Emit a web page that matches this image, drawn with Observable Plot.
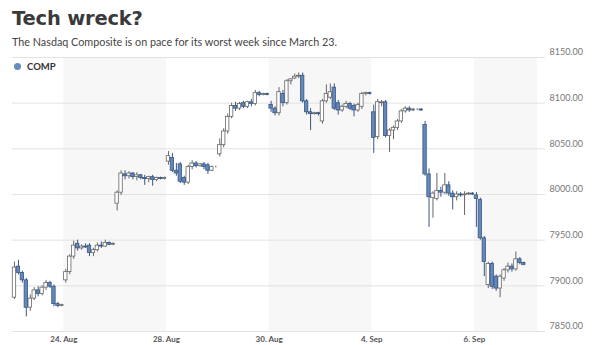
<!DOCTYPE html>
<html>
<head>
<meta charset="utf-8">
<script src="https://cdn.jsdelivr.net/npm/d3@7"></script>
<script src="https://cdn.jsdelivr.net/npm/@observablehq/plot@0.6"></script>
<style>
  html, body { margin: 0; padding: 0; background: #fff; }
  body { width: 593px; height: 345px; overflow: hidden; position: relative; font-family: Lato, "Open Sans", sans-serif; }
  #title { position: absolute; left: 12px; top: 7px; font: bold 19.5px "DejaVu Sans", sans-serif; color: #3a3a3a; letter-spacing: -0.2px; white-space: nowrap; }
  #subtitle { position: absolute; left: 12px; top: 35px; font: 10.8px Lato, sans-serif; color: #444; white-space: nowrap; }
  #legend { position: absolute; left: 14px; top: 61px; font: bold 9.5px Lato, sans-serif; color: #333; display: flex; align-items: center; gap: 6px; }
  #legend .dot { width: 7px; height: 7px; border-radius: 50%; background: #6a8cbc; display: inline-block; }
  #chart { position: absolute; left: 0; top: 48px; }
</style>
</head>
<body>
<div id="title">Tech wreck?</div>
<div id="subtitle">The Nasdaq Composite is on pace for its worst week since March 23.</div>
<div id="chart"></div>
<div id="legend"><span class="dot"></span><span>COMP</span></div>
<script>
// Trading days shown (13 half-hour candles each)
const days = ["23. Aug", "24. Aug", "27. Aug", "28. Aug", "29. Aug", "30. Aug", "31. Aug", "4. Sep", "5. Sep", "6. Sep"];
const candlesPerDay = 13;
const yTicks = [7850, 7900, 7950, 8000, 8050, 8100, 8150];
const shadeEnd = 133; // last shaded band runs to the plot's right edge

const opens = [
  7887, 7921, 7914, 7906, 7876, 7886, 7895, 7891, 7898, 7903, 7899, 7880, 7878,
  7906, 7915, 7932, 7946, 7941, 7943, 7944, 7936, 7939, 7944, 7943, 7947, 7945,
  7990, 8002, 8022, 8020, 8023, 8019, 8021, 8018, 8017, 8019, 8016, 8018, 8017,
  8036, 8040, 8026, 8033, 8018, 8013, 8030, 8034, 8031, 8033, 8032, 8026, 8030,
  8044, 8054, 8069, 8085, 8097, 8094, 8100, 8096, 8101, 8099, 8111, 8109, 8110,
  8098, 8094, 8089, 8110, 8100, 8124, 8127, 8129, 8130, 8102, 8090, 8088, 8089,
  8080, 8102, 8106, 8117, 8100, 8092, 8096, 8099, 8097, 8092, 8096, 8110, 8111,
  8090, 8063, 8100, 8101, 8064, 8070, 8073, 8080, 8091, 8094, 8092, 8093, 8093,
  8076, 8022, 7996, 7995, 8004, 8002, 8010, 8001, 7997, 8000, 7999, 8000, 8001,
  7999, 7994, 7952, 7901, 7924, 7910, 7897, 7908, 7917, 7921, 7918, 7929, 7925
];
const highs = [
  7926, 7928, 7916, 7908, 7890, 7898, 7899, 7900, 7906, 7905, 7901, 7882, 7880,
  7918, 7934, 7949, 7950, 7945, 7946, 7946, 7941, 7947, 7948, 7950, 7948, 7947,
  8004, 8026, 8026, 8025, 8024, 8024, 8022, 8021, 8020, 8021, 8019, 8019, 8019,
  8047, 8045, 8034, 8035, 8020, 8032, 8037, 8036, 8034, 8035, 8034, 8031, 8031,
  8061, 8072, 8088, 8100, 8101, 8101, 8102, 8102, 8104, 8114, 8113, 8111, 8111,
  8102, 8096, 8117, 8114, 8126, 8127, 8132, 8133, 8133, 8104, 8094, 8090, 8090,
  8104, 8120, 8121, 8121, 8103, 8098, 8102, 8101, 8099, 8100, 8112, 8112, 8112,
  8098, 8104, 8103, 8103, 8072, 8075, 8082, 8093, 8096, 8096, 8094, 8094, 8094,
  8080, 8028, 8003, 8023, 8008, 8023, 8014, 8004, 8003, 8002, 8003, 8002, 8002,
  8002, 7996, 7954, 7926, 7926, 7912, 7912, 7919, 7925, 7924, 7937, 7931, 7926
];
const lows = [
  7885, 7912, 7903, 7866, 7872, 7884, 7888, 7889, 7895, 7897, 7877, 7876, 7877,
  7903, 7912, 7929, 7938, 7939, 7941, 7932, 7932, 7937, 7941, 7942, 7944, 7944,
  7982, 7999, 8016, 8017, 8016, 8015, 8016, 8010, 8013, 8009, 8014, 8016, 8016,
  8032, 8024, 8020, 8012, 8010, 8011, 8027, 8029, 8030, 8027, 8022, 8025, 8029,
  8041, 8051, 8066, 8083, 8091, 8092, 8094, 8094, 8096, 8097, 8107, 8108, 8108,
  8090, 8086, 8086, 8096, 8098, 8120, 8126, 8127, 8100, 8087, 8070, 8087, 8086,
  8077, 8100, 8104, 8092, 8087, 8090, 8094, 8092, 8085, 8090, 8093, 8108, 8109,
  8045, 8060, 8096, 8062, 8046, 8060, 8070, 8078, 8089, 8090, 8091, 8092, 8091,
  8020, 7964, 7974, 7993, 7997, 8000, 7998, 7983, 7993, 7997, 7977, 7999, 7999,
  7964, 7950, 7910, 7897, 7896, 7894, 7887, 7905, 7914, 7915, 7916, 7923, 7922
];
const closes = [
  7920, 7914, 7906, 7876, 7886, 7895, 7891, 7898, 7903, 7899, 7880, 7878, 7879,
  7915, 7932, 7944, 7941, 7943, 7942, 7936, 7939, 7944, 7943, 7947, 7945, 7946,
  8002, 8023, 8020, 8023, 8019, 8021, 8018, 8017, 8019, 8016, 8018, 8017, 8018,
  8042, 8026, 8023, 8014, 8013, 8030, 8034, 8031, 8033, 8030, 8026, 8030, 8030,
  8054, 8069, 8085, 8097, 8094, 8099, 8096, 8101, 8099, 8111, 8109, 8110, 8109,
  8094, 8089, 8112, 8100, 8124, 8126, 8129, 8130, 8102, 8090, 8088, 8089, 8088,
  8102, 8110, 8112, 8094, 8092, 8096, 8099, 8094, 8092, 8098, 8110, 8111, 8110,
  8062, 8101, 8101, 8064, 8070, 8073, 8080, 8091, 8094, 8092, 8093, 8093, 8092,
  8022, 7997, 8001, 8004, 8002, 8010, 8001, 7997, 8000, 7999, 8000, 8001, 8000,
  7995, 7952, 7926, 7924, 7899, 7897, 7910, 7917, 7921, 7918, 7929, 7925, 7923
];

const candles = opens.map((o, i) => ({
  i, open: o, high: highs[i], low: lows[i], close: closes[i], up: closes[i] >= o
}));
const upC = candles.filter(d => d.up);
const downC = candles.filter(d => !d.up);

// x ticks at the start of every other trading day
const tickDays = days.map((d, k) => k).filter(k => k % 2 === 1);
const tickIdx = tickDays.map(k => k * candlesPerDay);
const tickText = new Map(tickDays.map(k => [k * candlesPerDay, days[k]]));
// alternate shaded bands between ticks
const bands = tickDays.filter((k, j) => j % 2 === 0).map(k => ({
  x1: k * candlesPerDay,
  x2: Math.min((k + 2) * candlesPerDay, shadeEnd)
}));

const chart = Plot.plot({
  width: 593,
  height: 297,
  marginLeft: 12,
  marginRight: 48,
  marginTop: 9,
  marginBottom: 14,
  style: { fontFamily: "Lato, sans-serif", background: "transparent", overflow: "visible" },
  x: { domain: [0, 135], axis: null },
  y: { domain: [7850, 8150], axis: null },
  marks: [
    Plot.rect(bands, { x1: "x1", x2: "x2", y1: 7850, y2: 8150, fill: "#f7f7f7" }),
    Plot.gridY(yTicks, { stroke: "#e2e2e2", strokeOpacity: 1, strokeWidth: 1 }),
    Plot.axisY(yTicks, {
      anchor: "right", tickSize: 0, tickPadding: 4, dy: -5,
      tickFormat: d => d.toFixed(2), fontSize: 9, fill: "#777"
    }),
    Plot.axisX(tickIdx, {
      anchor: "bottom", tickSize: 0, tickPadding: 5,
      tickFormat: d => tickText.get(d), fontSize: 8, fontWeight: "bold", fill: "#555"
    }),
    Plot.ruleX(upC, { x: d => d.i + 0.5, y1: "low", y2: "high", stroke: "#666", strokeWidth: 1 }),
    Plot.ruleX(downC, { x: d => d.i + 0.5, y1: "low", y2: "high", stroke: "#3a5680", strokeWidth: 1 }),
    Plot.rect(upC, {
      x1: d => d.i + 0.07, x2: d => d.i + 0.93, y1: "open", y2: "close",
      fill: "#ffffff", stroke: "#666", strokeWidth: 0.8
    }),
    Plot.rect(downC, {
      x1: d => d.i + 0.07, x2: d => d.i + 0.93, y1: "open", y2: "close",
      fill: "#6288bc", stroke: "#3a5680", strokeWidth: 0.8
    })
  ]
});
document.getElementById("chart").appendChild(chart);
</script>
</body>
</html>
